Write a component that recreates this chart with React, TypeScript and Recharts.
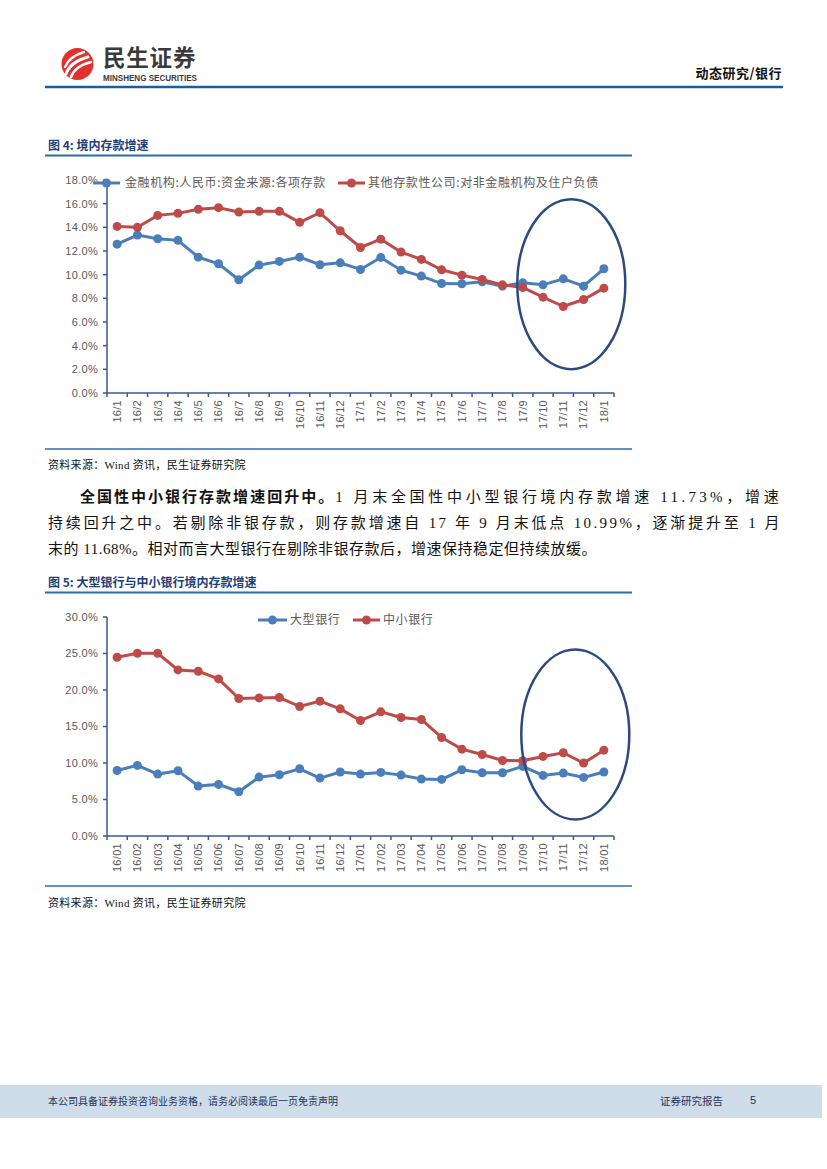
import React from 'react';
import { LineChart, Line, XAxis, YAxis, ReferenceDot } from 'recharts';

// ---------- Figure 4 data ----------
const months1 = ['16/1','16/2','16/3','16/4','16/5','16/6','16/7','16/8','16/9','16/10','16/11','16/12','17/1','17/2','17/3','17/4','17/5','17/6','17/7','17/8','17/9','17/10','17/11','17/12','18/1'];
const allDeposits1 = [12.58,13.35,13.04,12.9,11.48,10.92,9.57,10.81,11.12,11.48,10.84,11.0,10.44,11.46,10.38,9.88,9.25,9.23,9.4,9.03,9.31,9.14,9.65,9.03,10.5];
const otherDepository1 = [14.08,14.0,15.01,15.18,15.52,15.66,15.29,15.35,15.35,14.42,15.24,13.71,12.3,13.0,11.91,11.29,10.41,9.96,9.59,9.14,8.92,8.1,7.31,7.9,8.86];
const yTicks1 = [0,2,4,6,8,10,12,14,16,18];
const seriesNames1 = ['金融机构:人民币:资金来源:各项存款','其他存款性公司:对非金融机构及住户负债'];

// ---------- Figure 5 data ----------
const months2 = ['16/01','16/02','16/03','16/04','16/05','16/06','16/07','16/08','16/09','16/10','16/11','16/12','17/01','17/02','17/03','17/04','17/05','17/06','17/07','17/08','17/09','17/10','17/11','17/12','18/01'];
const largeBanks2 = [8.98,9.67,8.48,8.94,6.84,7.07,6.06,8.07,8.39,9.21,7.93,8.76,8.48,8.71,8.34,7.8,7.75,9.07,8.66,8.66,9.53,8.3,8.62,8.03,8.76];
const smallBanks2 = [24.49,25.03,25.03,22.75,22.57,21.52,18.83,18.92,18.97,17.74,18.47,17.42,15.82,17.01,16.23,15.96,13.5,11.9,11.17,10.35,10.31,10.9,11.4,9.99,11.76];
const yTicks2 = [0,5,10,15,20,25,30];
const seriesNames2 = ['大型银行','中小银行'];

const data1 = months1.map((m, i) => ({ m, a: allDeposits1[i], b: otherDepository1[i] }));
const data2 = months2.map((m, i) => ({ m, a: largeBanks2[i], b: smallBanks2[i] }));

const BLUE = '#4A7EBB';
const RED = '#BE4B48';
const NAVY = '#2C4A7E';
const AXIS = '#3B5791';
const TICKTXT = '#595959';
const TITLE = '#1F3E78';
const RULE = '#2B6CB0';
const CJK = "'Noto Sans CJK SC', sans-serif";
const SERIF = "'Liberation Serif', 'Noto Sans CJK SC', serif";

const CHART_W = 600;
const MARGIN_L = 7;
const MARGIN_R = 26;
const YAXIS_W = 60;
const PLOT_W = CHART_W - MARGIN_L - MARGIN_R - YAXIS_W;

function makeXTick(categories: string[]) {
  const n = categories.length;
  const bw = PLOT_W / n;
  return (props: any) => {
    const { x, y, payload } = props;
    const i = categories.indexOf(payload.value);
    const ty = y + 7;
    return (
      <g>
        <line x1={x - bw / 2} x2={x - bw / 2} y1={y} y2={y + 4} stroke={AXIS} strokeWidth={1.5} />
        {i === n - 1 && <line x1={x + bw / 2} x2={x + bw / 2} y1={y} y2={y + 4} stroke={AXIS} strokeWidth={1.5} />}
        <text
          x={x}
          y={ty}
          dy="0.35em"
          textAnchor="end"
          transform={`rotate(-90, ${x}, ${ty})`}
          fontSize={11}
          fill={TICKTXT}
          fontFamily="'Liberation Sans', sans-serif"
          letterSpacing={0.3}
        >
          {payload.value}
        </text>
      </g>
    );
  };
}

const pct = (v: number) => `${v.toFixed(1)}%`;

function Chart(props: {
  data: any[];
  categories: string[];
  ticks: number[];
  height: number;
  marginTop: number;
  marginBottom: number;
  xHeight: number;
  ellipseAt: { x: string; y: number; dx: number };
}) {
  const { data, categories, ticks, height, marginTop, marginBottom, xHeight, ellipseAt } = props;
  return (
    <LineChart
      width={CHART_W}
      height={height}
      data={data}
      margin={{ top: marginTop, right: MARGIN_R, bottom: marginBottom, left: MARGIN_L }}
    >
      <XAxis
        dataKey="m"
        type="category"
        scale="band"
        interval={0}
        height={xHeight}
        axisLine={{ stroke: AXIS, strokeWidth: 1.5 }}
        tickLine={false}
        tickSize={0}
        tickMargin={0}
        tick={makeXTick(categories)}
      />
      <YAxis
        width={YAXIS_W}
        domain={[ticks[0], ticks[ticks.length - 1]]}
        ticks={ticks}
        interval={0}
        tickFormatter={pct}
        axisLine={{ stroke: AXIS, strokeWidth: 1.5 }}
        tickLine={{ stroke: AXIS, strokeWidth: 1.5 }}
        tickSize={4}
        tickMargin={5}
        tick={{ fontSize: 11, fill: TICKTXT, fontFamily: "'Liberation Sans', sans-serif", letterSpacing: 0.3 }}
      />
      <Line
        dataKey="a"
        stroke={BLUE}
        strokeWidth={3}
        dot={{ r: 4.5, fill: BLUE, stroke: BLUE, strokeWidth: 0 }}
        activeDot={false}
        isAnimationActive={false}
      />
      <Line
        dataKey="b"
        stroke={RED}
        strokeWidth={3}
        dot={{ r: 4.5, fill: RED, stroke: RED, strokeWidth: 0 }}
        activeDot={false}
        isAnimationActive={false}
      />
      <ReferenceDot
        x={ellipseAt.x}
        y={ellipseAt.y}
        r={1}
        ifOverflow="visible"
        shape={(p: any) => (
          <ellipse cx={p.cx + ellipseAt.dx} cy={p.cy} rx={54} ry={85} fill="none" stroke={NAVY} strokeWidth={2.5} />
        )}
      />
    </LineChart>
  );
}

function LegendItem({ x, y, color, label, lineFrom, lineTo }: any) {
  return (
    <g>
      <line x1={lineFrom} x2={lineTo} y1={y} y2={y} stroke={color} strokeWidth={3} />
      <circle cx={(lineFrom + lineTo) / 2} cy={y} r={4.5} fill={color} />
      <text x={x} y={y} dy="0.35em" fontSize={12} fill={TICKTXT} fontFamily={CJK} letterSpacing={0.6}>
        {label}
      </text>
    </g>
  );
}

const abs = (left: number, top: number, extra: React.CSSProperties = {}): React.CSSProperties => ({
  position: 'absolute',
  left,
  top,
  ...extra,
});

const para: React.CSSProperties = {
  fontFamily: SERIF,
  fontSize: 15,
  color: '#111',
  lineHeight: '20px',
  whiteSpace: 'nowrap',
};

export default function App() {
  return (
    <div style={{ position: 'absolute', left: 0, top: 0, width: 827, height: 1169, background: '#fff', overflow: 'hidden' }}>
      {/* Header text */}
      <div style={abs(560, 65, { width: 222, textAlign: 'right', fontFamily: CJK, fontWeight: 700, fontSize: 13, color: '#111', lineHeight: '16px', letterSpacing: 0.5 })}>
        动态研究/银行
      </div>

      {/* Figure 4 title */}
      <div style={abs(48, 137, { fontFamily: CJK, fontWeight: 700, fontSize: 12, color: TITLE, lineHeight: '16px' })}>
        图 4: 境内存款增速
      </div>

      {/* Chart 1 */}
      <div style={abs(40, 170)}>
        <Chart data={data1} categories={months1} ticks={yTicks1} height={270} marginTop={10} marginBottom={7} xHeight={40}
          ellipseAt={{ x: '17/11', y: 9.2, dx: 8 }} />
      </div>

      <div style={abs(48, 458, { fontFamily: SERIF, fontSize: 11, color: '#111', lineHeight: '14px', letterSpacing: 0.3 })}>
        资料来源：Wind 资讯，民生证券研究院
      </div>

      {/* Paragraph */}
      <div style={abs(80, 486, { ...para, width: 702, letterSpacing: 3.3, textAlign: 'justify', textAlignLast: 'justify' })}>
        <span style={{ fontWeight: 700, fontFamily: CJK, letterSpacing: 1.6 }}>全国性中小银行存款增速回升中。</span>1 月末全国性中小型银行境内存款增速 11.73%，增速
      </div>
      <div style={abs(48, 513, { ...para, width: 734, letterSpacing: 2.4, textAlign: 'justify', textAlignLast: 'justify' })}>
        持续回升之中。若剔除非银存款，则存款增速自 17 年 9 月末低点 10.99%，逐渐提升至 1 月
      </div>
      <div style={abs(48, 539, { ...para, letterSpacing: 0.5 })}>
        末的 11.68%。相对而言大型银行在剔除非银存款后，增速保持稳定但持续放缓。
      </div>

      {/* Figure 5 title */}
      <div style={abs(48, 574, { fontFamily: CJK, fontWeight: 700, fontSize: 12, color: TITLE, lineHeight: '16px' })}>
        图 5: 大型银行与中小银行境内存款增速
      </div>

      {/* Chart 2 */}
      <div style={abs(40, 600)}>
        <Chart data={data2} categories={months2} ticks={yTicks2} height={290} marginTop={17} marginBottom={9} xHeight={45}
          ellipseAt={{ x: '17/11', y: 13.9, dx: 12 }} />
      </div>

      <div style={abs(48, 896, { fontFamily: SERIF, fontSize: 11, color: '#111', lineHeight: '14px', letterSpacing: 0.3 })}>
        资料来源：Wind 资讯，民生证券研究院
      </div>

      {/* Footer */}
      <div style={abs(0, 1085, { width: 822, height: 33, background: '#CFDCEA' })} />
      <div style={abs(48, 1094, { fontFamily: CJK, fontSize: 10, color: '#1F3458', lineHeight: '14px' })}>
        本公司具备证券投资咨询业务资格，请务必阅读最后一页免责声明
      </div>
      <div style={abs(660, 1094, { fontFamily: CJK, fontSize: 10.5, color: '#1F3458', lineHeight: '14px' })}>
        证券研究报告
      </div>
      <div style={abs(750, 1093, { fontFamily: "'Liberation Sans', sans-serif", fontSize: 11, color: '#1F3458', lineHeight: '14px' })}>
        5
      </div>

      {/* Overlay: logo, rules, legends */}
      <svg width={827} height={1169} style={{ position: 'absolute', left: 0, top: 0, pointerEvents: 'none' }}>
        {/* logo */}
        <circle cx={77.5} cy={64} r={16} fill="#E2312B" />
        <path d="M66 74 Q70 62 88 57" stroke="#fff" strokeWidth={3} fill="none" strokeLinecap="round" />
        <path d="M71 77 Q75 66 91 62" stroke="#fff" strokeWidth={2.6} fill="none" strokeLinecap="round" />
        <path d="M65 67 Q70 56 84 52" stroke="#fff" strokeWidth={2.4} fill="none" strokeLinecap="round" />
        <text x={103} y={66} fontFamily={CJK} fontWeight={700} fontSize={22.5} fill="#3a3a3a" letterSpacing={0.8}>民生证券</text>
        <text x={103} y={81} fontFamily="'Liberation Sans', sans-serif" fontWeight={700} fontSize={9} fill="#3a3a3a"
          textLength={94} lengthAdjust="spacingAndGlyphs">MINSHENG SECURITIES</text>
        {/* header rule */}
        <line x1={45} x2={783} y1={87} y2={87} stroke="#1F5C9E" strokeWidth={2.5} />
        {/* figure rules */}
        <line x1={45} x2={632} y1={155.5} y2={155.5} stroke={RULE} strokeWidth={2} />
        <line x1={45} x2={632} y1={449} y2={449} stroke={RULE} strokeWidth={1.5} />
        <line x1={45} x2={632} y1={592.5} y2={592.5} stroke={RULE} strokeWidth={2} />
        <line x1={45} x2={632} y1={886} y2={886} stroke={RULE} strokeWidth={1.5} />
        {/* legends */}
        <LegendItem y={183} lineFrom={93} lineTo={120} x={125} color={BLUE} label={seriesNames1[0]} />
        <LegendItem y={183} lineFrom={338} lineTo={365} x={368} color={RED} label={seriesNames1[1]} />
        <LegendItem y={620} lineFrom={258} lineTo={287} x={290} color={BLUE} label={seriesNames2[0]} />
        <LegendItem y={620} lineFrom={353} lineTo={380} x={383} color={RED} label={seriesNames2[1]} />
      </svg>
    </div>
  );
}
